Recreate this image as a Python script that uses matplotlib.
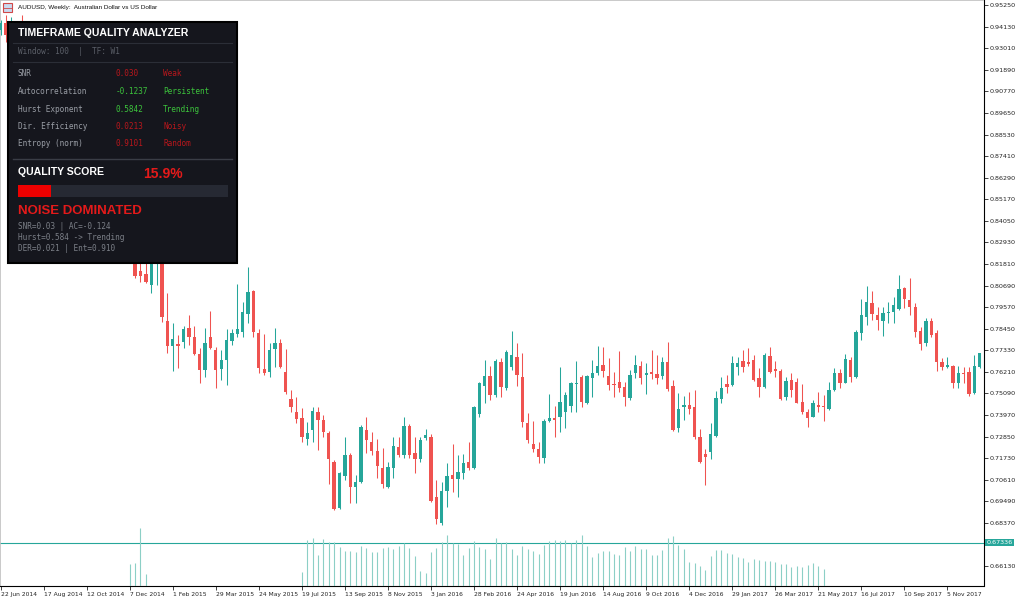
import matplotlib
matplotlib.use("Agg")
import matplotlib.pyplot as plt
import numpy as np
import pandas as pd
from matplotlib.patches import Rectangle
from matplotlib.transforms import blended_transform_factory

# weekly AUDUSD bars, first bar = week of 22 Jun 2014
first_week = "2014-06-22"

opens = [
    0.9395, 0.9432, 0.9370, 0.9395, 0.9385, 0.9330, 0.9400, 0.9290, 0.9330, 0.9300,
    0.9290, 0.9340, 0.9300, 0.9060, 0.9030, 0.8800, 0.8750, 0.8770, 0.8760, 0.8780,
    0.8660, 0.8660, 0.8710, 0.8580, 0.8460, 0.8310, 0.8145, 0.8127, 0.8072, 0.8200,
    0.8250, 0.7885, 0.7755, 0.7764, 0.7774, 0.7847, 0.7804, 0.7714, 0.7631, 0.7800,
    0.7735, 0.7634, 0.7683, 0.7783, 0.7818, 0.7829, 0.7921, 0.8041, 0.7824, 0.7636,
    0.7622, 0.7738, 0.7769, 0.7622, 0.7478, 0.7411, 0.7380, 0.7271, 0.7319, 0.7415,
    0.7371, 0.7302, 0.7154, 0.6916, 0.7081, 0.7190, 0.7025, 0.7051, 0.7319, 0.7259,
    0.7212, 0.7120, 0.7022, 0.7120, 0.7229, 0.7190, 0.7340, 0.7202, 0.7167, 0.7276,
    0.7285, 0.6970, 0.6838, 0.7004, 0.7086, 0.7065, 0.7098, 0.7155, 0.7120, 0.7402,
    0.7548, 0.7600, 0.7501, 0.7674, 0.7536, 0.7645, 0.7697, 0.7596, 0.7357, 0.7246,
    0.7219, 0.7172, 0.7368, 0.7380, 0.7388, 0.7414, 0.7444, 0.7558, 0.7593, 0.7461,
    0.7588, 0.7614, 0.7657, 0.7600, 0.7558, 0.7570, 0.7541, 0.7484, 0.7614, 0.7651,
    0.7605, 0.7622, 0.7610, 0.7600, 0.7674, 0.7548, 0.7328, 0.7440, 0.7449, 0.7437,
    0.7285, 0.7195, 0.7206, 0.7288, 0.7478, 0.7558, 0.7553, 0.7645, 0.7677, 0.7674,
    0.7683, 0.7588, 0.7544, 0.7703, 0.7634, 0.7627, 0.7489, 0.7579, 0.7570, 0.7466,
    0.7414, 0.7388, 0.7449, 0.7440, 0.7427, 0.7527, 0.7614, 0.7565, 0.7683, 0.7596,
    0.7824, 0.7907, 0.7980, 0.7916, 0.7887, 0.7925, 0.7933, 0.7946, 0.8055, 0.7994,
    0.7956, 0.7834, 0.7772, 0.7887, 0.7824, 0.7674, 0.7648, 0.7651, 0.7565, 0.7617,
    0.7622, 0.7510, 0.7648,
]
highs = [
    0.9445, 0.9473, 0.9464, 0.9430, 0.9473, 0.9420, 0.9410, 0.9340, 0.9380, 0.9330,
    0.9370, 0.9400, 0.9320, 0.9100, 0.9040, 0.8800, 0.8890, 0.8810, 0.8830, 0.8910,
    0.8680, 0.8790, 0.8740, 0.8650, 0.8510, 0.8350, 0.8220, 0.8200, 0.8280, 0.8290,
    0.8290, 0.8029, 0.7876, 0.7812, 0.7859, 0.7916, 0.7859, 0.7743, 0.7847, 0.7938,
    0.7748, 0.7735, 0.7842, 0.7842, 0.8077, 0.7985, 0.8164, 0.8046, 0.7842, 0.7818,
    0.7769, 0.7847, 0.7790, 0.7738, 0.7527, 0.7492, 0.7434, 0.7362, 0.7437, 0.7440,
    0.7397, 0.7316, 0.7164, 0.7103, 0.7285, 0.7202, 0.7086, 0.7345, 0.7388, 0.7311,
    0.7271, 0.7224, 0.7154, 0.7285, 0.7285, 0.7388, 0.7350, 0.7285, 0.7285, 0.7323,
    0.7299, 0.7060, 0.7051, 0.7147, 0.7246, 0.7190, 0.7195, 0.7259, 0.7444, 0.7571,
    0.7683, 0.7651, 0.7686, 0.7691, 0.7735, 0.7835, 0.7769, 0.7721, 0.7406, 0.7368,
    0.7259, 0.7375, 0.7506, 0.7444, 0.7645, 0.7518, 0.7571, 0.7679, 0.7605, 0.7605,
    0.7683, 0.7755, 0.7752, 0.7691, 0.7622, 0.7731, 0.7570, 0.7631, 0.7709, 0.7679,
    0.7667, 0.7735, 0.7709, 0.7697, 0.7777, 0.7579, 0.7512, 0.7496, 0.7518, 0.7527,
    0.7323, 0.7219, 0.7357, 0.7524, 0.7593, 0.7605, 0.7703, 0.7700, 0.7735, 0.7743,
    0.7709, 0.7640, 0.7721, 0.7752, 0.7679, 0.7634, 0.7596, 0.7617, 0.7588, 0.7558,
    0.7427, 0.7475, 0.7518, 0.7501, 0.7571, 0.7640, 0.7634, 0.7714, 0.7700, 0.7838,
    0.7998, 0.8067, 0.8042, 0.7959, 0.7959, 0.7985, 0.8011, 0.8124, 0.8062, 0.8107,
    0.7977, 0.7855, 0.7899, 0.7899, 0.7838, 0.7691, 0.7700, 0.7657, 0.7651, 0.7645,
    0.7645, 0.7709, 0.7721,
]
lows = [
    0.9370, 0.9333, 0.9330, 0.9340, 0.9320, 0.9310, 0.9280, 0.9240, 0.9290, 0.9240,
    0.9270, 0.9280, 0.9040, 0.8960, 0.8760, 0.8640, 0.8700, 0.8700, 0.8730, 0.8640,
    0.8540, 0.8600, 0.8540, 0.8430, 0.8290, 0.8107, 0.8089, 0.8081, 0.8032, 0.8072,
    0.7881, 0.7717, 0.7627, 0.7640, 0.7743, 0.7760, 0.7709, 0.7562, 0.7596, 0.7740,
    0.7536, 0.7579, 0.7553, 0.7760, 0.7804, 0.7804, 0.7873, 0.7804, 0.7614, 0.7605,
    0.7596, 0.7648, 0.7640, 0.7506, 0.7414, 0.7354, 0.7259, 0.7241, 0.7259, 0.7215,
    0.7285, 0.7039, 0.6904, 0.6908, 0.7060, 0.6939, 0.6939, 0.7046, 0.7198, 0.7190,
    0.7069, 0.7017, 0.7017, 0.7069, 0.7181, 0.7172, 0.7172, 0.7098, 0.7154, 0.7267,
    0.6947, 0.6831, 0.6826, 0.6918, 0.6999, 0.6973, 0.7063, 0.7112, 0.7116, 0.7388,
    0.7461, 0.7475, 0.7489, 0.7492, 0.7527, 0.7631, 0.7548, 0.7336, 0.7253, 0.7206,
    0.7147, 0.7150, 0.7362, 0.7285, 0.7311, 0.7328, 0.7414, 0.7414, 0.7440, 0.7454,
    0.7489, 0.7605, 0.7596, 0.7527, 0.7492, 0.7518, 0.7444, 0.7475, 0.7588, 0.7558,
    0.7506, 0.7583, 0.7558, 0.7583, 0.7524, 0.7316, 0.7311, 0.7371, 0.7402, 0.7271,
    0.7150, 0.7034, 0.7167, 0.7285, 0.7461, 0.7513, 0.7548, 0.7605, 0.7622, 0.7651,
    0.7575, 0.7489, 0.7536, 0.7614, 0.7593, 0.7475, 0.7475, 0.7489, 0.7458, 0.7402,
    0.7333, 0.7385, 0.7414, 0.7368, 0.7423, 0.7523, 0.7536, 0.7562, 0.7570, 0.7588,
    0.7786, 0.7864, 0.7890, 0.7838, 0.7807, 0.7873, 0.7873, 0.7942, 0.7951, 0.7916,
    0.7804, 0.7735, 0.7755, 0.7804, 0.7627, 0.7631, 0.7640, 0.7536, 0.7536, 0.7562,
    0.7496, 0.7506, 0.7640,
]
closes = [
    0.9430, 0.9369, 0.9395, 0.9385, 0.9330, 0.9400, 0.9290, 0.9330, 0.9300, 0.9290,
    0.9340, 0.9300, 0.9060, 0.9030, 0.8800, 0.8750, 0.8770, 0.8760, 0.8780, 0.8660,
    0.8660, 0.8710, 0.8580, 0.8460, 0.8310, 0.8119, 0.8119, 0.8086, 0.8230, 0.8250,
    0.7907, 0.7755, 0.7792, 0.7757, 0.7843, 0.7804, 0.7714, 0.7631, 0.7772, 0.7746,
    0.7631, 0.7683, 0.7786, 0.7821, 0.7843, 0.7933, 0.8037, 0.7829, 0.7643, 0.7614,
    0.7735, 0.7772, 0.7648, 0.7518, 0.7440, 0.7376, 0.7285, 0.7302, 0.7420, 0.7371,
    0.7311, 0.7167, 0.6908, 0.7098, 0.7190, 0.7025, 0.7051, 0.7337, 0.7267, 0.7212,
    0.7132, 0.7039, 0.7129, 0.7238, 0.7190, 0.7340, 0.7190, 0.7167, 0.7267, 0.7293,
    0.6952, 0.6856, 0.7004, 0.7081, 0.7065, 0.7103, 0.7150, 0.7120, 0.7437, 0.7562,
    0.7600, 0.7501, 0.7679, 0.7541, 0.7726, 0.7709, 0.7605, 0.7362, 0.7267, 0.7219,
    0.7181, 0.7368, 0.7380, 0.7371, 0.7466, 0.7501, 0.7562, 0.7565, 0.7466, 0.7600,
    0.7617, 0.7651, 0.7627, 0.7553, 0.7553, 0.7536, 0.7489, 0.7605, 0.7657, 0.7588,
    0.7614, 0.7608, 0.7588, 0.7674, 0.7531, 0.7319, 0.7427, 0.7449, 0.7427, 0.7285,
    0.7155, 0.7181, 0.7299, 0.7484, 0.7536, 0.7545, 0.7665, 0.7669, 0.7645, 0.7662,
    0.7579, 0.7541, 0.7709, 0.7622, 0.7627, 0.7478, 0.7575, 0.7527, 0.7461, 0.7414,
    0.7380, 0.7458, 0.7437, 0.7437, 0.7527, 0.7614, 0.7562, 0.7686, 0.7596, 0.7829,
    0.7916, 0.7985, 0.7921, 0.7890, 0.7925, 0.7933, 0.7968, 0.8050, 0.7998, 0.7959,
    0.7829, 0.7766, 0.7887, 0.7812, 0.7674, 0.7645, 0.7657, 0.7565, 0.7617, 0.7610,
    0.7506, 0.7651, 0.7717,
]

# histogram at the bottom (two runs of bars)
vol_start_a = "2014-12-07"
vol_a = [65, 68, 175, 35]
vol_start_b = "2015-07-19"
vol_b = [
    42, 137, 144, 92, 140, 133, 133, 117, 104, 105, 103, 119, 115, 103, 101, 113,
    117, 112, 120, 129, 113, 89, 44, 38, 103, 115, 133, 152, 129, 125, 93, 115,
    136, 117, 110, 81, 143,
    128, 132, 110, 93, 119, 111, 105, 96, 122, 134, 139, 134, 138, 129, 138, 152,
    119, 88, 99, 104, 105, 96, 92, 117, 105, 121, 110, 110, 94, 93, 109, 145,
    149, 122, 110, 71, 69, 59, 49, 89, 109, 107, 99, 95, 86, 85, 73, 82,
    79, 76, 76, 71, 67, 65, 57, 59, 56, 63, 69, 59, 50,
]
level_line = 0.67336

# panel content
panel_rows = ["SNR", "Autocorrelation", "Hurst Exponent", "Dir. Efficiency", "Entropy (norm)"]
panel_values = ["0.030", "-0.1237", "0.5842", "0.0213", "0.9101"]
panel_status = ["Weak", "Persistent", "Trending", "Noisy", "Random"]
panel_good = [False, True, True, False, False]
quality_score = 15.9

UP = "#26a69a"
DOWN = "#ef5350"

dates = pd.date_range(first_week, periods=len(opens), freq="7D")
x = np.arange(len(opens))
o = np.array(opens)
h = np.array(highs)
l = np.array(lows)
c = np.array(closes)
up = c >= o
cols = np.where(up, UP, DOWN)

fig = plt.figure(figsize=(10.24, 5.98), dpi=100)
ax = fig.add_axes([0, 12 / 598, 983.5 / 1024, 586 / 598])

# bottom histogram on a hidden twin axis (made first, twinx resets tick side)
vax = ax.twinx()
vax.set_ylim(0, 1758)
vax.axis("off")
ia = dates.get_loc(pd.Timestamp(vol_start_a))
ib = dates.get_loc(pd.Timestamp(vol_start_b))
vax.vlines(np.arange(ia, ia + len(vol_a)), 0, vol_a, colors="#8ccfc6", linewidth=0.8)
vax.vlines(np.arange(ib, ib + len(vol_b)), 0, vol_b, colors="#8ccfc6", linewidth=0.8)

# wicks + bodies
ax.vlines(x, l, h, colors=cols, linewidth=0.75, zorder=2)
body_lo = np.minimum(o, c)
body_h = np.maximum(np.abs(c - o), 0.0005)
ax.bar(x, body_h, bottom=body_lo, width=0.62, color=cols, linewidth=0, zorder=3)

ax.axhline(level_line, color=UP, linewidth=0.8, zorder=1)

ax.set_xlim(-0.11, 182.7)
ax.set_ylim(0.6510, 0.9551)

# price axis on the right; the 0.67250 step sits under the price tag
yt = [0.95250 - 0.0112 * k for k in range(27) if k != 25]
ax.set_yticks(yt)
ax.set_yticklabels([f"{v:.5f}" for v in yt])
ax.yaxis.tick_right()
ax.tick_params(axis="y", left=False, labelleft=False, right=True, labelright=True,
               direction="out", length=3, width=0.6, pad=1.5,
               labelsize=4.6, colors="#222222")

# date axis
xt = list(range(0, len(opens), 8))
ax.set_xticks(xt)
ax.set_xticklabels([f"{d.day} {d.strftime('%b %Y')}" for d in dates[xt]])
ax.tick_params(axis="x", direction="out", length=3, width=0.6, pad=1.5,
               labelsize=4.3, colors="#222222")
for lab in ax.get_xticklabels():
    lab.set_horizontalalignment("left")

for side in ["right", "bottom"]:
    ax.spines[side].set_color("#000000")
    ax.spines[side].set_linewidth(0.8)
for side in ["top", "left"]:
    ax.spines[side].set_color("#c0c0c0")
    ax.spines[side].set_linewidth(1.2)

# price tag for the line
tr = blended_transform_factory(ax.transAxes, ax.transData)
ax.text(1.003, level_line, f"{level_line:.5f}", transform=tr, fontsize=4.6,
        color="white", va="center", ha="left",
        bbox=dict(boxstyle="square,pad=0.15", fc=UP, ec="none"))

# overlay in pixel coordinates for the panel and header
ov = fig.add_axes([0, 0, 1, 1], zorder=10)
ov.set_xlim(0, 1024)
ov.set_ylim(598, 0)
ov.axis("off")
ov.patch.set_alpha(0)

ov.add_patch(Rectangle((3, 3), 9, 9, fc="#c9daf0", ec="#d04848", lw=0.8))
ov.plot([3, 12], [7.5, 7.5], color="#d04848", lw=0.6)
ov.text(18, 8, "AUDUSD, Weekly:  Australian Dollar vs US Dollar", fontsize=4.6,
        color="#111111", va="center", ha="left", family="Liberation Sans")

ov.add_patch(Rectangle((8, 22), 229, 241, fc="#15161d", ec="#000000", lw=1.5))

SANS = "Liberation Sans"
MONO = "DejaVu Sans Mono"
ov.text(18, 33, "TIMEFRAME QUALITY ANALYZER", fontsize=7.6, fontweight="bold",
        color="white", va="center", family=SANS)
ov.plot([13, 232], [42.7, 42.7], color="#2b2e37", lw=0.8)
ov.text(18, 52, "Window: 100  |  TF: W1", fontsize=5.6, color="#5b5f68",
        va="center", family=MONO)
ov.plot([13, 232], [62.3, 62.3], color="#2b2e37", lw=0.8)

row_y = [73.3, 91.3, 109, 126.7, 144]
for yy, name, val, st, good in zip(row_y, panel_rows, panel_values, panel_status, panel_good):
    vc = "#3cc43c" if good else "#b8161c"
    ov.text(18, yy, name, fontsize=5.6, color="#9a9ea6", va="center", family=MONO)
    ov.text(116, yy, val, fontsize=5.6, color=vc, va="center", family=MONO)
    ov.text(163, yy, st, fontsize=5.6, color=vc, va="center", family=MONO)

ov.plot([13, 232], [159.3, 159.3], color="#3a3d46", lw=1.0)
ov.text(18, 171.7, "QUALITY SCORE", fontsize=7.6, fontweight="bold", color="white",
        va="center", family=SANS)
ov.text(143, 173.5, f"{quality_score:.1f}%", fontsize=10, fontweight="bold",
        color="#e41a1a", va="center", family=SANS)

bar_x0, bar_x1 = 18, 228
ov.add_patch(Rectangle((bar_x0, 185), bar_x1 - bar_x0, 11.7, fc="#262933", ec="none"))
ov.add_patch(Rectangle((bar_x0, 185), (bar_x1 - bar_x0) * quality_score / 100, 11.7,
                       fc="#ee0000", ec="none"))

ov.text(18, 211, "NOISE DOMINATED", fontsize=9.5, fontweight="bold", color="#e41a1a",
        va="center", family=SANS)
summary = ["SNR=0.03 | AC=-0.124", "Hurst=0.584 -> Trending", "DER=0.021 | Ent=0.910"]
for yy, s in zip([226.7, 237.7, 248.3], summary):
    ov.text(18, yy, s, fontsize=5.6, color="#7b7f87", va="center", family=MONO)

fig.savefig("out.png", dpi=100)
